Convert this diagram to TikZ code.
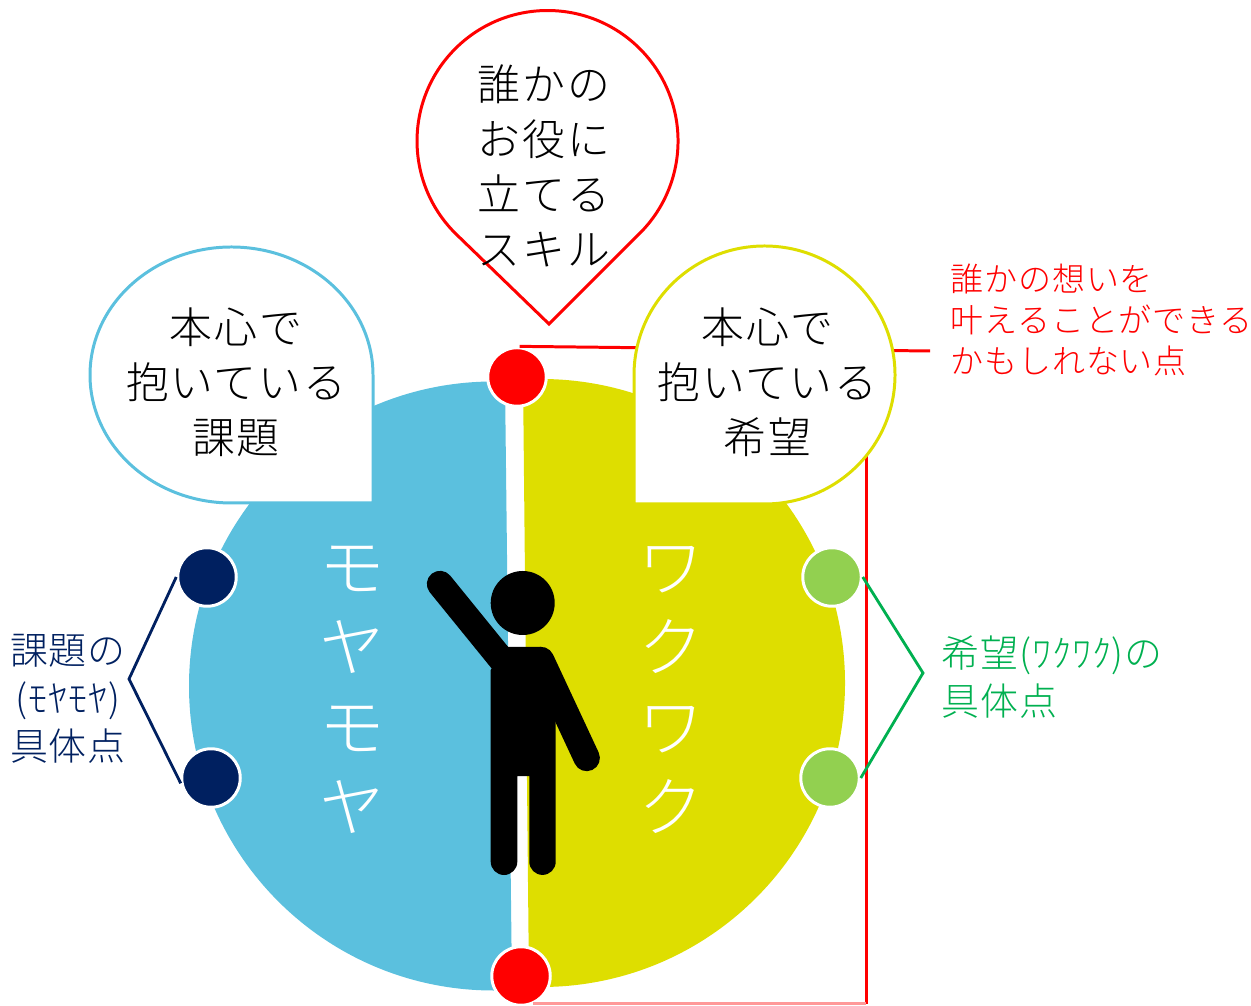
\documentclass[tikz,border=0pt]{standalone}
\usepackage{fontspec}
\newfontfamily\jpfont[LetterSpace=4]{Noto Sans CJK JP Light}
\newfontfamily\jpsmall[LetterSpace=2.4]{Noto Sans CJK JP Light}
\definecolor{moyablue}{HTML}{5BC0DE}
\definecolor{wakuyellow}{HTML}{DEDE00}
\definecolor{navydot}{HTML}{002060}
\definecolor{greendot}{HTML}{92D050}
\definecolor{greenline}{HTML}{00B050}
\tikzset{
	dot/.style={circle, draw=white, line width=0.85pt, minimum size=0.585cm, inner sep=0pt},
	bubble/.style={fill=white, line width=0.85pt},
	bubbletext/.style={inner sep=0pt, align=center, font=\jpfont\fontsize{12.2}{15.6}\selectfont},
	bigtext/.style={inner sep=0pt, align=center, text=white, font=\jpfont\fontsize{18.6}{22.8}\selectfont},
	sidetext/.style={inner sep=0pt, font=\jpsmall\fontsize{10.8}{13.6}\selectfont},
	redline/.style={red, line width=0.85pt}
}
\begin{document}
\begin{tikzpicture}
	\useasboundingbox (0,0) rectangle (12.51,10.05);
	\begin{scope}
		\clip (0,7) -- (5.041,7) -- (5.122,0) -- (0,0) -- cycle;
		\fill[moyablue] (4.935,3.19) circle (3.045);
	\end{scope}
	\begin{scope}
		\clip (5.223,7) -- (12,7) -- (12,0) -- (5.292,0) -- cycle;
		\fill[wakuyellow] (5.41,3.22) circle (3.04);
	\end{scope}
	\node[bigtext] (moya) at (3.52,3.15) {モ\\ヤ\\モ\\ヤ};
	\node[bigtext] (waku) at (6.71,3.15) {ワ\\ク\\ワ\\ク};
	\node[dot, fill=red] (redtop) at (5.17,6.28) {};
	\node[dot, fill=red] (redbot) at (5.21,0.29) {};
	\node[dot, fill=navydot] (navya) at (2.07,4.28) {};
	\node[dot, fill=navydot] (navyb) at (2.11,2.27) {};
	\node[dot, fill=greendot] (greena) at (8.32,4.28) {};
	\node[dot, fill=greendot] (greenb) at (8.30,2.27) {};
	\coordinate (redend) at (9.3,6.54);
	\coordinate (redturn) at (8.66,6.54);
	\coordinate (redcorner) at (8.66,0.015);
	\coordinate (redfoot) at (5.33,0.015);
	\coordinate (navytip) at (1.29,3.26);
	\coordinate (greentip) at (9.23,3.32);
	\draw[redline] (redtop.85) -- (redend);
	\draw[redline] (redturn) -- (redcorner);
	\draw[red!40, line width=0.6pt] (redfoot) -- (redcorner);
	\draw[navydot, line width=0.8pt] (navya.west) -- (navytip) -- (navyb.190);
	\draw[greenline, line width=0.8pt] (greena.east) -- (greentip) -- (greenb.east);
	% bubbles
	\draw[bubble, draw=moyablue] (3.73,6.30) arc[start angle=0, end angle=270, x radius=1.415, y radius=1.28] -- (3.73,5.02) -- cycle;
	\draw[bubble, draw=wakuyellow] (6.34,6.30) arc[start angle=180, end angle=-90, x radius=1.305, y radius=1.29] -- (6.34,5.01) -- cycle;
	\draw[bubble, draw=red] (5.49,6.81) -- (6.398,7.717) arc[start angle=-45, end angle=225, radius=1.305] -- cycle;
	\node[bubbletext] (issue) at (2.36,6.23) {本心で\\抱いている\\課題};
	\node[bubbletext] (hope) at (7.675,6.23) {本心で\\抱いている\\希望};
	\node[bubbletext] (skill) at (5.44,8.39) {誰かの\\お役に\\立てる\\スキル};
	\node[sidetext, text=red, align=left, anchor=west, font=\jpsmall\fontsize{9.4}{11.8}\selectfont] (point) at (9.5,6.85) {誰かの想いを\\叶えることができる\\かもしれない点};
	\node[sidetext, text=navydot, align=center] (navylabel) at (0.68,3.06) {課題の\\(ﾓﾔﾓﾔ)\\具体点};
	\node[sidetext, text=greenline, align=left, anchor=west] (greenlabel) at (9.41,3.28) {希望(ﾜｸﾜｸ)の\\具体点};
	% person
	\fill (5.227,4.02) circle (0.32);
	\draw[line width=7.5pt, line cap=round] (4.40,4.21) -- (5.05,3.41);
	\draw[line width=7.5pt, line cap=round] (5.867,2.47) -- (5.41,3.45);
	\fill (4.907,1.433) -- (4.907,3.35) -- (5.07,3.58) -- (5.41,3.58) -- (5.557,3.3) -- (5.557,1.433)
		arc[start angle=0, end angle=-180, radius=0.132] -- (5.293,2.29) -- (5.173,2.29) -- (5.173,1.433)
		arc[start angle=0, end angle=-180, radius=0.133] -- cycle;
\end{tikzpicture}
\end{document}
